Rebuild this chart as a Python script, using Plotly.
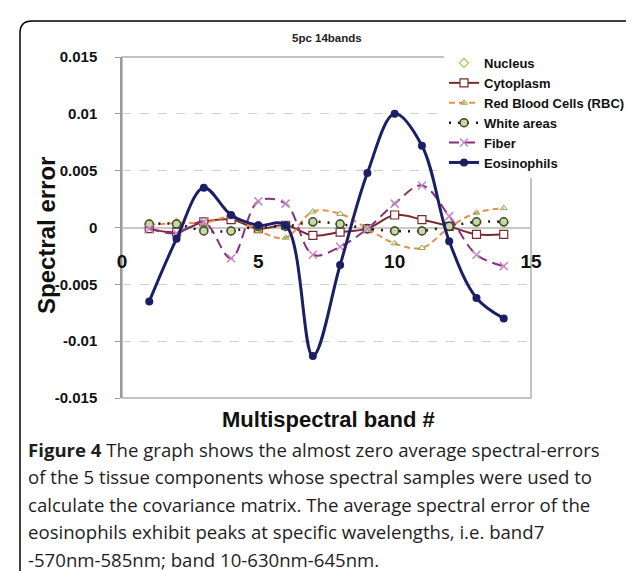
import plotly.graph_objects as go

bands = list(range(1, 15))
nucleus = [0.0003, 0.0004, -0.0002, -0.0003, 0.0001, 0.0001, 0.0004, 0.0003, -0.0001, -0.0003, -0.0003, 0.0001, 0.0004, 0.0004]
cytoplasm = [-0.0001, -0.0004, 0.0005, 0.0007, -0.0001, 0.0002, -0.0007, -0.0004, -0.0001, 0.0011, 0.0007, 0.0001, -0.0006, -0.0006]
rbc = [0.0002, 0.0004, 0.0004, 0.0009, -0.0003, -0.0009, 0.0014, 0.0012, -0.0001, -0.0014, -0.0018, 0.0000, 0.0013, 0.0017]
white_areas = [0.0003, 0.0003, -0.0003, -0.0003, 0.0001, 0.0001, 0.0005, 0.0003, -0.0001, -0.0003, -0.0003, 0.0001, 0.0005, 0.0005]
fiber = [-0.0001, -0.0005, 0.0005, -0.0027, 0.0023, 0.0021, -0.0024, -0.0017, -0.0001, 0.0021, 0.0037, 0.0010, -0.0024, -0.0034]
eosinophils = [-0.0065, -0.0010, 0.0035, 0.0011, 0.0002, 0.0002, -0.0113, -0.0033, 0.0048, 0.0100, 0.0072, -0.0012, -0.0062, -0.0080]

x_ticks = [0, 5, 10, 15]
y_ticks = [-0.015, -0.01, -0.005, 0, 0.005, 0.01, 0.015]
y_tick_labels = ["-0.015", "-0.01", "-0.005", "0", "0.005", "0.01", "0.015"]

caption_lines = [
    "<b>Figure 4</b> The graph shows the almost zero average spectral-errors",
    "of the 5 tissue components whose spectral samples were used to",
    "calculate the covariance matrix. The average spectral error of the",
    "eosinophils exhibit peaks at specific wavelengths, i.e. band7",
    "-570nm-585nm; band 10-630nm-645nm.",
]

W, H = 634, 571
L, R, T, B = 114, 523, 49, 390

def px(x):
    return (x - L) / (R - L)

def py(y):
    return (B - y) / (B - T)

fig = go.Figure()
fig.add_trace(go.Scatter(x=bands, y=nucleus, name="Nucleus", mode="markers",
                         marker=dict(symbol="diamond-open", size=7, color="#b8cc6e", line=dict(width=1.5))))
fig.add_trace(go.Scatter(x=bands, y=cytoplasm, name="Cytoplasm", mode="lines+markers",
                         line=dict(color="#7a2a2e", width=2, shape="spline", smoothing=1),
                         marker=dict(symbol="square", size=8, color="white", line=dict(color="#7a2a2e", width=1.2))))
fig.add_trace(go.Scatter(x=bands, y=rbc, name="Red Blood Cells (RBC)", mode="lines+markers",
                         line=dict(color="#f08c48", width=2, dash="6px,4px", shape="spline", smoothing=1),
                         marker=dict(symbol="triangle-up-open", size=6, color="#7fb050", line=dict(width=1))))
fig.add_trace(go.Scatter(x=bands, y=white_areas, name="White areas", mode="lines+markers",
                         line=dict(color="#1a1a1a", width=2.5, dash="2px,7px", shape="spline", smoothing=1),
                         marker=dict(symbol="circle", size=8, color="#c9d7a4", line=dict(color="#3a4a2a", width=1.5))))
fig.add_trace(go.Scatter(x=bands, y=fiber, name="Fiber", mode="lines+markers",
                         line=dict(color="#8a2f7c", width=2, dash="10px,6px", shape="spline", smoothing=1),
                         marker=dict(symbol="x-thin-open", size=8, color="#c48ac4", line=dict(color="#c48ac4", width=1.5))))
fig.add_trace(go.Scatter(x=bands, y=eosinophils, name="Eosinophils", mode="lines+markers",
                         line=dict(color="#1b1f66", width=3, shape="spline", smoothing=1),
                         marker=dict(symbol="circle", size=8, color="#1b1f66")))

axis_font = dict(family="Liberation Sans, Arial", color="#111", weight="bold")

fig.update_layout(
    width=W, height=H,
    margin=dict(l=L, r=W - R, t=T, b=H - B, autoexpand=False),
    paper_bgcolor="white", plot_bgcolor="white",
    showlegend=True,
    legend=dict(
        xref="container", yref="container",
        x=436 / W, y=1 - 40 / H, xanchor="left", yanchor="top",
        bgcolor="white", borderwidth=0,
        font=dict(family="Liberation Sans, Arial", size=13, color="#111", weight="bold"),
        itemwidth=30, tracegroupgap=0,
    ),
    xaxis=dict(
        range=[0, 15], tickvals=x_ticks, ticktext=[str(v) for v in x_ticks],
        anchor="free", position=0.5, showline=False, showgrid=False, zeroline=False,
        ticks="", ticklabelstandoff=20,
        tickfont=dict(size=19, **axis_font),
    ),
    yaxis=dict(
        range=[-0.015, 0.015], tickvals=y_ticks, ticktext=y_tick_labels,
        showline=True, linecolor="#9a9a9a", linewidth=1.5,
        ticks="outside", ticklen=5, tickcolor="#9a9a9a",
        showgrid=True, gridcolor="#d0d0d0", griddash="dash", gridwidth=1,
        zeroline=True, zerolinecolor="#c8c8c8", zerolinewidth=1.5,
        ticklabelstandoff=15,
        tickfont=dict(size=15, **axis_font),
    ),
    shapes=[
        dict(type="rect", xref="paper", yref="paper", x0=0, x1=1, y0=0, y1=1,
             line=dict(color="#b0b0b0", width=1.5), layer="below"),
        dict(type="path", xref="paper", yref="paper",
             path=(f"M {px(12)} {py(590)} L {px(12)} {py(25)} Q {px(12)} {py(13)} {px(24)} {py(13)} "
                   f"L {px(623)} {py(13)} Q {px(635)} {py(13)} {px(635)} {py(25)} L {px(635)} {py(590)}"),
             line=dict(color="black", width=1.5)),
    ],
)

annotations = [
    dict(text="5pc 14bands", x=0.5, y=py(30), xref="paper", yref="paper",
         xanchor="center", yanchor="middle",
         showarrow=False, font=dict(size=11.5, family="Liberation Sans, Arial", color="#222", weight="bold")),
    dict(text="Spectral error", x=px(38), y=py(228), xref="paper", yref="paper", textangle=-90,
         xanchor="center", yanchor="middle",
         showarrow=False, font=dict(size=24, **axis_font)),
    dict(text="Multispectral band #", x=px(320), y=py(411), xref="paper", yref="paper",
         xanchor="center", yanchor="middle",
         showarrow=False, font=dict(size=22, **axis_font)),
]
for i, line in enumerate(caption_lines):
    annotations.append(dict(text=line, x=px(18), y=py(441 + 27.5 * i), xref="paper", yref="paper",
                            xanchor="left", yanchor="middle", showarrow=False, align="left",
                            font=dict(size=18.6, family="Open Sans", color="#1e1e1e")))
fig.update_layout(annotations=annotations)

fig.write_html("out.html")
